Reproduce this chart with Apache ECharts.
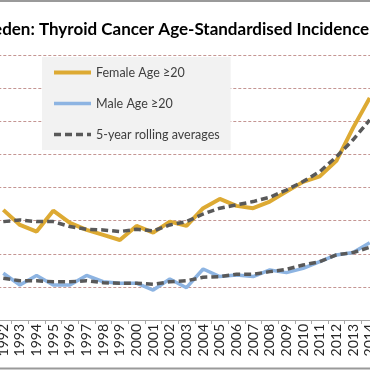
<!DOCTYPE html>
<html><head><meta charset="utf-8">
<script src="https://cdn.jsdelivr.net/npm/echarts@6/dist/echarts.min.js"></script>
<style>html,body{margin:0;padding:0;background:#fff;overflow:hidden}#c{width:370px;height:370px}</style>
</head><body><div id="c"></div>
<script>
// Categories (1991 and 2015 sit just outside the visible crop)
const years = ['1991','1992','1993','1994','1995','1996','1997','1998','1999','2000','2001','2002','2003','2004','2005','2006','2007','2008','2009','2010','2011','2012','2013','2014','2015'];
const female = [null, 6.65, 5.74, 5.34, 6.60, 5.86, 5.44, 5.14, 4.83, 5.68, 5.28, 5.94, 5.68, 6.75, 7.31, 6.89, 6.75, 7.15, 7.75, 8.34, 8.67, 9.61, 11.6, 13.41, null];
const male = [null, 2.82, 2.11, 2.69, 2.11, 2.11, 2.69, 2.31, 2.22, 2.22, 1.81, 2.48, 1.95, 3.08, 2.62, 2.72, 2.62, 3.02, 2.86, 3.12, 3.52, 3.93, 4.07, 4.67, null];
const femaleAvg = [null, 5.94, 6.04, 5.94, 5.94, 5.64, 5.48, 5.44, 5.34, 5.48, 5.38, 5.74, 5.94, 6.40, 6.75, 6.95, 7.15, 7.41, 7.85, 8.36, 8.96, 9.85, 10.88, 12.08, null];
const maleAvg = [null, 2.52, 2.37, 2.37, 2.31, 2.31, 2.37, 2.25, 2.22, 2.22, 2.16, 2.31, 2.37, 2.58, 2.62, 2.76, 2.76, 2.92, 3.06, 3.32, 3.52, 3.93, 4.07, 4.39, null];
const seriesNames = ['Female Age ≥20', 'Male Age ≥20', '5-year rolling averages'];
const titleText = 'Sweden: Thyroid Cancer Age-Standardised Incidence';

const chart = echarts.init(document.getElementById('c'), null, {renderer: 'canvas'});
const FONT = 'Lato';
const dashStyle = {color: '#595959', width: 3.5, type: [7, 4]};
chart.setOption({
  animation: false,
  backgroundColor: '#ffffff',
  graphic: [
    {type: 'line', shape: {x1: -10, y1: 1, x2: 380, y2: 1}, style: {stroke: '#9a9a9a', lineWidth: 2}, silent: true},
    {type: 'line', shape: {x1: -10, y1: 368.5, x2: 380, y2: 368.5}, style: {stroke: '#9a9a9a', lineWidth: 2}, silent: true},
    {type: 'text', x: 369, y: 30, style: {text: titleText, fontFamily: FONT, fontWeight: 'bold', fontSize: 17, fill: '#000', align: 'right', verticalAlign: 'middle'}, silent: true}
  ],
  legend: {
    orient: 'vertical', left: 42, top: 57,
    backgroundColor: '#f2f2f2',
    padding: [9, 11, 9, 10],
    itemWidth: 37, itemHeight: 14, itemGap: 18,
    itemStyle: {opacity: 0},
    lineStyle: {width: 'inherit'},
    data: seriesNames,
    textStyle: {fontFamily: FONT, fontSize: 12.5, color: '#404040'}
  },
  grid: {left: -21.7, right: -24.7, top: 55, bottom: 50, outerBoundsMode: 'none', containLabel: false},
  xAxis: {
    type: 'category', data: years, boundaryGap: true,
    axisLine: {lineStyle: {color: '#a6a6a6', width: 1}},
    axisTick: {show: true, length: 4, lineStyle: {color: '#a6a6a6'}},
    axisLabel: {rotate: 90, interval: 0, margin: 4, fontFamily: FONT, fontSize: 14, color: '#262626'}
  },
  yAxis: {
    type: 'value', min: 0, max: 16, interval: 2,
    axisLabel: {show: false}, axisLine: {show: false}, axisTick: {show: false},
    splitLine: {lineStyle: {color: '#c49592', width: 1, type: [3, 2]}}
  },
  series: [
    {name: seriesNames[0], type: 'line', data: female, symbol: 'none', lineStyle: {color: '#DDAA33', width: 4}, itemStyle: {color: '#DDAA33'}, z: 2},
    {name: seriesNames[1], type: 'line', data: male, symbol: 'none', lineStyle: {color: '#8DB4E2', width: 3.5}, itemStyle: {color: '#8DB4E2'}, z: 2},
    {name: seriesNames[2], type: 'line', data: femaleAvg, symbol: 'none', lineStyle: dashStyle, itemStyle: {color: '#595959'}, z: 3},
    {name: seriesNames[2], type: 'line', data: maleAvg, symbol: 'none', lineStyle: dashStyle, itemStyle: {color: '#595959'}, z: 3}
  ]
});
</script>
</body></html>
